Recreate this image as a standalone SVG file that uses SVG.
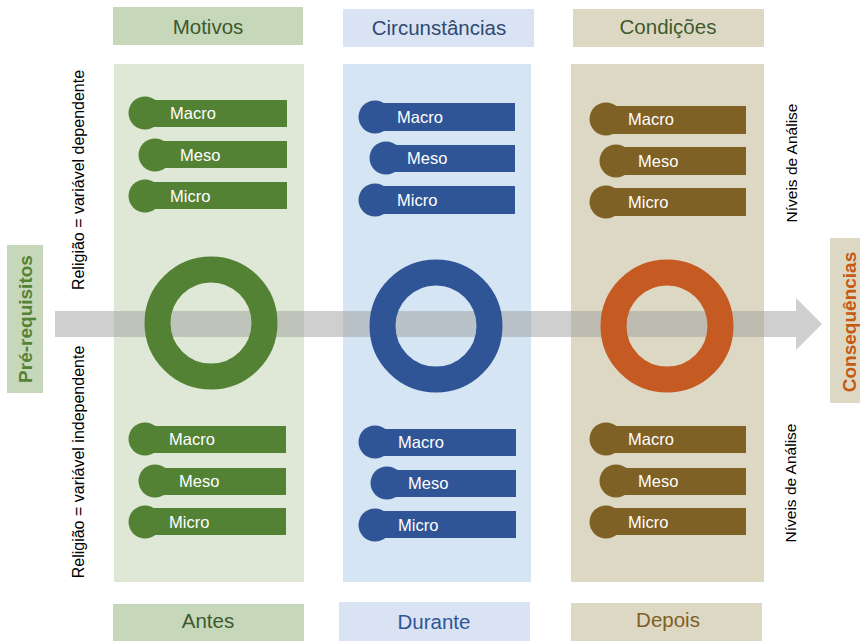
<svg xmlns="http://www.w3.org/2000/svg" width="860" height="641" viewBox="0 0 860 641">
<style>
text{font-family:"Liberation Sans",Arial,sans-serif}
.hd{font-size:20.5px;text-anchor:middle}
.pl{font-size:16.5px;fill:#ffffff}
.vt{font-size:16px;fill:#000000;text-anchor:middle}
.vn{font-size:15.5px;fill:#000000;text-anchor:middle}
.side{font-size:19px;font-weight:bold;text-anchor:middle}
.g{fill:#548235}
.b{fill:#2f5597}
.t{fill:#7f6025}
.ring{fill:none;stroke-width:26}
</style>
<rect width="860" height="641" fill="#ffffff"/>

<g id="panel-motivos">
<rect x="114" y="64" width="190" height="518" fill="#dfe8d6"/>
</g>
<g id="panel-circunstancias">
<rect x="343" y="64" width="188" height="518" fill="#d5e5f3"/>
</g>
<g id="panel-condicoes">
<rect x="571" y="64" width="193" height="518" fill="#ddd8c3"/>
</g>

<g id="header-motivos">
<rect x="113" y="7" width="190" height="38" fill="#c6d7ba"/>
<text class="hd" x="208" y="34" fill="#3d5a2c">Motivos</text>
</g>
<g id="header-circunstancias">
<rect x="343" y="9" width="191" height="38" fill="#dae3f3"/>
<text class="hd" x="439" y="35" fill="#2f4a72">Circunstâncias</text>
</g>
<g id="header-condicoes">
<rect x="573" y="9" width="191" height="38" fill="#ddd8c3"/>
<text class="hd" x="668" y="34" fill="#3d5a2c">Condições</text>
</g>

<g id="footer-antes">
<rect x="113" y="604" width="191" height="37" fill="#c6d7ba"/>
<text class="hd" x="208" y="628" fill="#3d5a2c">Antes</text>
</g>
<g id="footer-durante">
<rect x="339" y="602" width="191" height="39" fill="#dae3f3"/>
<text class="hd" x="434" y="629" fill="#2f5597">Durante</text>
</g>
<g id="footer-depois">
<rect x="571" y="603" width="191" height="38" fill="#ddd8c3"/>
<text class="hd" x="668" y="627" fill="#7f6025">Depois</text>
</g>

<g id="connectors">
<polygon points="55,311 796,311 796,298 822,324 796,350 796,337 55,337" fill="#a0a0a0" fill-opacity="0.5"/>
</g>

<g id="ring-motivos"><circle class="ring" cx="211" cy="323" r="53.5" stroke="#548235"/></g>
<g id="ring-circunstancias"><circle class="ring" cx="436" cy="326" r="53.5" stroke="#2f5597"/></g>
<g id="ring-condicoes"><circle class="ring" cx="667" cy="326" r="53.5" stroke="#c55a22"/></g>

<g id="pills-motivos-top">
<circle class="g" cx="145" cy="113" r="16.5"/><rect class="g" x="145" y="100" width="142" height="27"/><text class="pl" x="170" y="119">Macro</text>
<circle class="g" cx="155" cy="155" r="16.5"/><rect class="g" x="155" y="141" width="132" height="27"/><text class="pl" x="180" y="161">Meso</text>
<circle class="g" cx="145" cy="196" r="16.5"/><rect class="g" x="145" y="182" width="142" height="27"/><text class="pl" x="170" y="202">Micro</text>
</g>
<g id="pills-motivos-bottom">
<circle class="g" cx="145" cy="439" r="16.5"/><rect class="g" x="145" y="426" width="141" height="27"/><text class="pl" x="169" y="445">Macro</text>
<circle class="g" cx="155" cy="481" r="16.5"/><rect class="g" x="155" y="468" width="131" height="27"/><text class="pl" x="179" y="487">Meso</text>
<circle class="g" cx="145" cy="522" r="16.5"/><rect class="g" x="145" y="508" width="141" height="27"/><text class="pl" x="169" y="528">Micro</text>
</g>

<g id="pills-circunstancias-top">
<circle class="b" cx="375" cy="117" r="16.5"/><rect class="b" x="375" y="103" width="140" height="28"/><text class="pl" x="397" y="123">Macro</text>
<circle class="b" cx="386" cy="158" r="16.5"/><rect class="b" x="386" y="145" width="129" height="27"/><text class="pl" x="407" y="164">Meso</text>
<circle class="b" cx="375" cy="200" r="16.5"/><rect class="b" x="375" y="186" width="140" height="28"/><text class="pl" x="397" y="206">Micro</text>
</g>
<g id="pills-circunstancias-bottom">
<circle class="b" cx="375" cy="442" r="16.5"/><rect class="b" x="375" y="429" width="141" height="27"/><text class="pl" x="398" y="448">Macro</text>
<circle class="b" cx="387" cy="483" r="16.5"/><rect class="b" x="387" y="470" width="129" height="27"/><text class="pl" x="408" y="489">Meso</text>
<circle class="b" cx="375" cy="525" r="16.5"/><rect class="b" x="375" y="511" width="141" height="27"/><text class="pl" x="398" y="531">Micro</text>
</g>

<g id="pills-condicoes-top">
<circle class="t" cx="606" cy="119" r="16.5"/><rect class="t" x="606" y="106" width="140" height="28"/><text class="pl" x="628" y="125">Macro</text>
<circle class="t" cx="616" cy="161" r="16.5"/><rect class="t" x="616" y="147" width="130" height="28"/><text class="pl" x="638" y="167">Meso</text>
<circle class="t" cx="606" cy="202" r="16.5"/><rect class="t" x="606" y="188" width="140" height="28"/><text class="pl" x="628" y="208">Micro</text>
</g>
<g id="pills-condicoes-bottom">
<circle class="t" cx="606" cy="439" r="16.5"/><rect class="t" x="606" y="426" width="140" height="27"/><text class="pl" x="628" y="445">Macro</text>
<circle class="t" cx="616" cy="481" r="16.5"/><rect class="t" x="616" y="468" width="130" height="27"/><text class="pl" x="638" y="487">Meso</text>
<circle class="t" cx="606" cy="522" r="16.5"/><rect class="t" x="606" y="508" width="140" height="27"/><text class="pl" x="628" y="528">Micro</text>
</g>

<g id="pre-requisitos">
<rect x="7" y="245" width="36" height="148" fill="#c6d7ba"/>
<text class="side" transform="translate(32,319) rotate(-90)" fill="#548235">Pré-requisitos</text>
</g>
<g id="consequencias">
<rect x="830" y="238" width="30" height="165" fill="#ddd8c3"/>
<text class="side" transform="translate(856,322) rotate(-90)" fill="#c55a11">Consequências</text>
</g>

<g id="label-dependente">
<text class="vt" transform="translate(84,180) rotate(-90)">Religião = variável dependente</text>
</g>
<g id="label-independente">
<text class="vt" transform="translate(84,462) rotate(-90)">Religião = variável independente</text>
</g>
<g id="label-niveis-top">
<text class="vn" transform="translate(797,163) rotate(-90)">Níveis de Análise</text>
</g>
<g id="label-niveis-bottom">
<text class="vn" transform="translate(796,483) rotate(-90)">Níveis de Análise</text>
</g>
</svg>
